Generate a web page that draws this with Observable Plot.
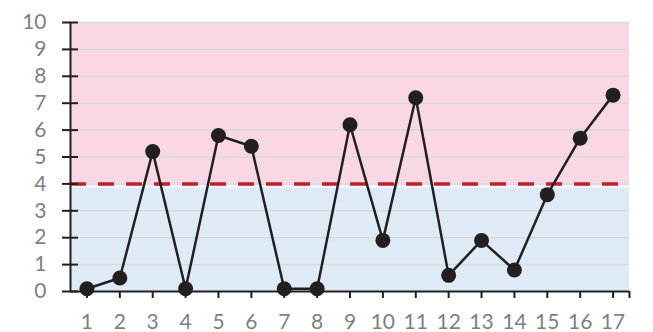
<!DOCTYPE html>
<html>
<head>
<meta charset="utf-8">
<script src="https://cdn.jsdelivr.net/npm/d3@7"></script>
<script src="https://cdn.jsdelivr.net/npm/@observablehq/plot@0.6"></script>
<style>
  html, body { margin: 0; padding: 0; background: #fff; }
  #chart { width: 653px; height: 332px; }
  #chart svg text { font-size: 21px !important; font-family: Lato, sans-serif !important; }
</style>
</head>
<body>
<div id="chart"></div>
<script>
const categories = [1, 2, 3, 4, 5, 6, 7, 8, 9, 10, 11, 12, 13, 14, 15, 16, 17];
const values = [0.1, 0.5, 5.2, 0.1, 5.8, 5.4, 0.1, 0.1, 6.2, 1.9, 7.2, 0.6, 1.9, 0.8, 3.6, 5.7, 7.3];
const yTicks = [0, 1, 2, 3, 4, 5, 6, 7, 8, 9, 10];
const threshold = 4;
const yMax = 10;

const data = categories.map((c, i) => ({cat: c, val: values[i]}));
const xMin = categories[0] - 0.5;
const xMax = categories[categories.length - 1] + 0.5;
const bands = [
  {lo: 0, hi: threshold, color: "#deebf6"},
  {lo: threshold, hi: yMax, color: "#f9d7e5"}
];
const noText = () => "";

const chart = Plot.plot({
  width: 653,
  height: 332,
  marginLeft: 70,
  marginRight: 24,
  marginTop: 22,
  marginBottom: 41,
  style: {fontFamily: "Lato, sans-serif", fontSize: "21px", background: "white"},
  x: {type: "linear", domain: [xMin, xMax], axis: null},
  y: {domain: [0, yMax], axis: null},
  marks: [
    Plot.rect(bands, {x1: xMin, x2: xMax, y1: "lo", y2: "hi", fill: "color"}),
    Plot.ruleY(yTicks.filter(d => d > 0), {x1: xMin, x2: xMax, stroke: "#d9d9d9", strokeWidth: 1.5}),
    Plot.ruleY([threshold], {x1: xMin, x2: xMax, stroke: "white", strokeWidth: 2, dy: 2.5}),
    Plot.ruleY([threshold], {x1: xMin, x2: xMax, stroke: "#c0202a", strokeWidth: 3.5, strokeDasharray: "16,12"}),
    Plot.axisY({ticks: yTicks, tickSize: 8, tickFormat: noText, label: null, stroke: "#231f20", strokeWidth: 2}),
    Plot.axisY({ticks: yTicks, tickSize: 8, tickFormat: noText, label: null, dx: 8, stroke: "#231f20", strokeWidth: 2}),
    Plot.axisY({ticks: yTicks, tickSize: 0, tickPadding: 24, label: null, color: "#7f7f7f", fontSize: 21}),
    Plot.axisX({ticks: [...categories, xMax], tickSize: 7, tickFormat: noText, label: null, stroke: "#231f20", strokeWidth: 2}),
    Plot.axisX({ticks: categories, tickSize: 0, tickPadding: 23, label: null, color: "#7f7f7f", fontSize: 21}),
    Plot.ruleX([xMin], {y1: 0, y2: yMax, stroke: "#231f20", strokeWidth: 2}),
    Plot.ruleY([0], {x1: xMin, x2: xMax, stroke: "#231f20", strokeWidth: 2}),
    Plot.line(data, {x: "cat", y: "val", stroke: "#231f20", strokeWidth: 2.5}),
    Plot.dot(data, {x: "cat", y: "val", r: 7.5, fill: "#231f20", stroke: "none"})
  ]
});
document.getElementById("chart").appendChild(chart);
</script>
</body>
</html>
